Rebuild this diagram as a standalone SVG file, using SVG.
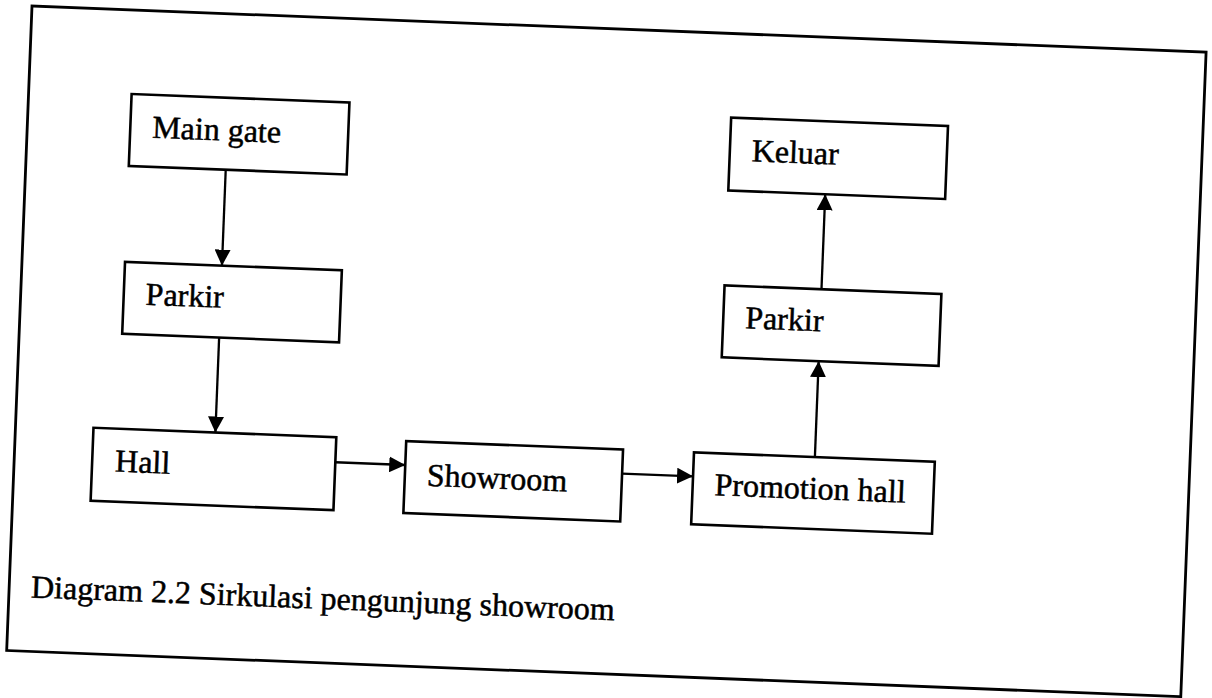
<svg xmlns="http://www.w3.org/2000/svg" width="1212" height="698" viewBox="0 0 1212 698">
  <style>
    .frame { fill: none; stroke: #000; stroke-width: 2.8; }
    .box { fill: #fff; stroke: #000; stroke-width: 2.6; }
    .label { font-family: "Liberation Serif", "Times New Roman", serif; font-size: 32px; fill: #000; stroke: #000; stroke-width: 0.5; }
    .edge { fill: none; stroke: #000; stroke-width: 2.3; marker-end: url(#arrow); }
  </style>
  <defs>
    <marker id="arrow" viewBox="0 0 16 16" refX="16" refY="8" markerWidth="16" markerHeight="16" orient="auto" markerUnits="userSpaceOnUse">
      <path d="M0,0 L16,8 L0,16 Z" fill="#000"/>
    </marker>
  </defs>
  <rect width="1212" height="698" fill="#fff"/>
  <!-- whole sheet sits slightly tilted -->
  <g transform="translate(32,6) rotate(2.25)">
    <rect id="frame" class="frame" x="0" y="0" width="1175" height="645"/>

    <g id="connectors">
      <line class="edge" x1="200" y1="156" x2="200" y2="252"/>
      <line class="edge" x1="200" y1="324" x2="200" y2="419"/>
      <line class="edge" x1="321" y1="444" x2="391" y2="444"/>
      <line class="edge" x1="608" y1="444" x2="679" y2="444"/>
      <line class="edge" x1="800" y1="420" x2="800" y2="324"/>
      <line class="edge" x1="800" y1="252" x2="800" y2="157"/>
    </g>

    <g id="main-gate">
      <rect class="box" x="103" y="84" width="218" height="72"/>
      <text class="label" x="125" y="127">Main gate</text>
    </g>
    <g id="parkir-in">
      <rect class="box" x="103" y="252" width="217" height="72"/>
      <text class="label" x="125" y="294">Parkir</text>
    </g>
    <g id="hall">
      <rect class="box" x="78" y="419" width="243" height="73"/>
      <text class="label" x="101" y="462">Hall</text>
    </g>
    <g id="showroom">
      <rect class="box" x="391" y="420" width="217" height="72"/>
      <text class="label" x="413" y="464">Showroom</text>
    </g>
    <g id="promotion-hall">
      <rect class="box" x="679" y="420" width="241" height="72"/>
      <text class="label" x="701" y="462">Promotion hall</text>
    </g>
    <g id="parkir-out">
      <rect class="box" x="703" y="252" width="217" height="72"/>
      <text class="label" x="725" y="294">Parkir</text>
    </g>
    <g id="keluar">
      <rect class="box" x="703" y="84" width="217" height="73"/>
      <text class="label" x="725" y="127">Keluar</text>
    </g>

    <text id="caption" class="label" x="22" y="591">Diagram 2.2 Sirkulasi pengunjung showroom</text>
  </g>
</svg>
